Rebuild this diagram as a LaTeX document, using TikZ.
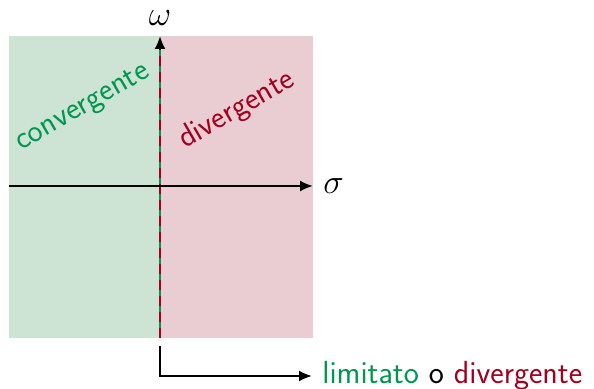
\documentclass[tikz,border=0pt]{standalone}
\usetikzlibrary{arrows.meta}
\definecolor{cgreen}{RGB}{0,150,80}
\definecolor{cred}{RGB}{162,0,32}
\definecolor{gfill}{RGB}{205,228,212}
\definecolor{rfill}{RGB}{234,205,210}
\begin{document}
\begin{tikzpicture}[x=0.5pt,y=-0.5pt,
  lbl/.style={font=\fontsize{16}{19}\selectfont\sffamily, inner sep=0pt},
  mlbl/.style={font=\fontsize{17}{20}\selectfont, inner sep=0pt},
  axis/.style={line width=1pt, -{Latex[length=6.5pt,width=5.5pt]}},
  region/.style={draw=none, inner sep=0pt, minimum height=151pt}]
\useasboundingbox (0,0) rectangle (594,389);
\node[region, fill=gfill, minimum width=75.5pt, anchor=north west] (conv) at (9,36) {};
\node[region, fill=rfill, minimum width=76.5pt, anchor=north west] (div) at (160,36) {};
\coordinate (ybot) at (160,338);
\coordinate (ytop) at (160,36);
\coordinate (ymid) at (160,50);
\coordinate (xl) at (9,186);
\coordinate (xr) at (313,186);
\draw[axis] (ybot) -- (ytop);
\draw[line width=1pt, cgreen] (ybot) -- (ymid);
\draw[line width=1pt, cred, dash pattern=on 5pt off 3pt] (ybot) -- (ymid);
\draw[axis] (xl) -- (xr);
\node[mlbl] (om) at (160,18) {$\omega$};
\node[mlbl, anchor=west] (sig) at (323,186) {$\sigma$};
\node[lbl, text=cgreen, rotate=30, anchor=base west] (tc) at (21,151) {convergente};
\node[lbl, text=cred, rotate=30, anchor=base west] (td) at (185,149) {divergente};
\coordinate (lstart) at (160,346);
\node[lbl, anchor=west] (res) at (322,376) {\textcolor{cgreen}{limitato} o \textcolor{cred}{divergente}};
\draw[axis] (lstart) |- ([xshift=-5pt]res.west);
\end{tikzpicture}
\end{document}
